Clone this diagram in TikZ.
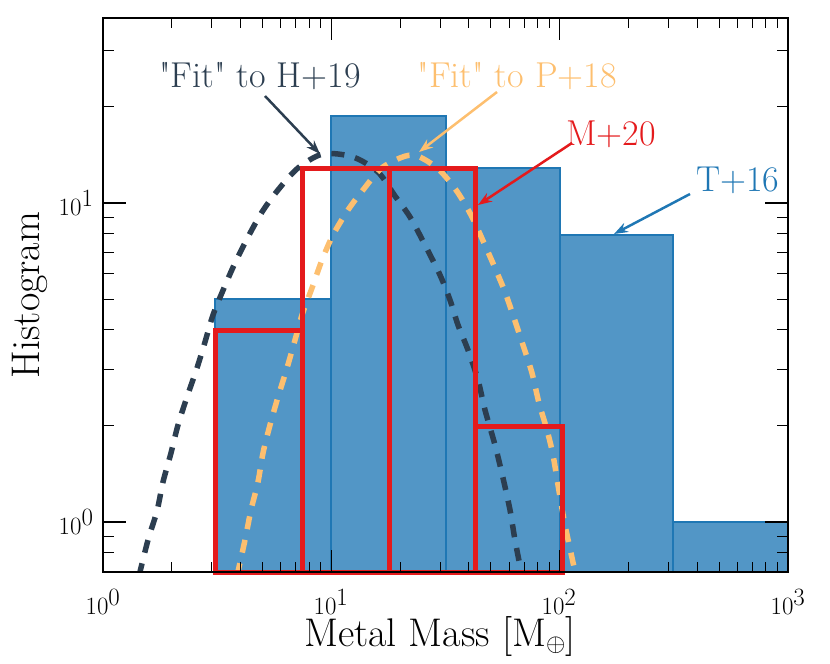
\documentclass[tikz,border=0pt]{standalone}
\usepackage{fontspec}
\usetikzlibrary{arrows.meta}
\definecolor{hblue}{HTML}{5296C6}
\definecolor{eblue}{HTML}{1F77B4}
\definecolor{hred}{HTML}{E41A1C}
\definecolor{hdark}{HTML}{2C3E50}
\definecolor{horange}{HTML}{FDBF6F}
\tikzset{
  lbl/.style={font=\fontsize{40}{44}\selectfont},
  ann/.style={font=\fontsize{36}{40}\selectfont},
  fitcurve/.style={line width=5.5pt, dash pattern=on 13pt off 11pt, smooth},
  annarrow/.style={line width=2.5pt, -{Stealth[length=14pt,width=10pt]}},
}
\begin{document}
\begin{tikzpicture}[x=1pt,y=-1pt]
\useasboundingbox (0,0) rectangle (830,664);
% T+16 histogram
\begin{scope}[fill=hblue, draw=eblue, line width=2.5pt]
\filldraw (215,572) rectangle (331,299);
\filldraw (331,572) rectangle (446,116);
\filldraw (446,572) rectangle (560,168);
\filldraw (560,572) rectangle (673,235);
\filldraw (673,572) rectangle (788,522);
\end{scope}
% fits
\begin{scope}
\clip (103,18) rectangle (788,572);
\draw[fitcurve, hdark] plot coordinates {(139,576) (148,540) (157,511) (163,482) (171,453) (178,425) (187,397) (197,368) (205,342) (213,315) (224,288) (235,263) (248,237) (262,212) (278,190) (298,168) (323,154) (353,157) (378,172) (395,196) (410,217) (425,245) (440,275) (450,300) (458,325) (468,350) (478,380) (485,410) (495,445) (503,478) (510,510) (515,540) (522,576)};
\draw[fitcurve, horange] plot coordinates {(237,576) (245,540) (251,510) (258,482) (263,453) (270,425) (278,397) (287,368) (295,340) (302,315) (312,288) (322,260) (333,235) (348,210) (363,190) (383,167) (412,155) (437,168) (456,190) (471,215) (484,243) (495,268) (505,292) (514,318) (523,345) (532,373) (539,403) (547,430) (553,455) (558,485) (565,525) (576,576)};
\end{scope}
% M+20 histogram
\begin{scope}[draw=hred, line width=5pt]
\draw (215,572) rectangle (302,330);
\draw (302,572) rectangle (389,168);
\draw (389,572) rectangle (475,168);
\draw (475,572) rectangle (562,426);
\end{scope}
% axes box
\draw[line width=2pt] (103,18) rectangle (788,572);
% x ticks
\foreach \d in {0,1,2}{
  \foreach \m in {2,...,9}{
    \pgfmathsetmacro{\xx}{103+228.33*(\d+log10(\m))}
    \draw[line width=1pt] (\xx,572) -- ++(0,-10) (\xx,18) -- ++(0,10);
  }}
\foreach \d in {0,1,2,3}{
  \pgfmathsetmacro{\xx}{103+228.33*\d}
  \draw[line width=1.5pt] (\xx,572) -- ++(0,-22) (\xx,18) -- ++(0,22);
}
% y ticks
\foreach \v in {0.7,0.8,0.9,2,3,4,5,6,7,8,9,20,30}{
  \pgfmathsetmacro{\yy}{522-319*log10(\v)}
  \draw[line width=1pt] (103,\yy) -- ++(11,0) (788,\yy) -- ++(-11,0);
}
\foreach \v in {1,10}{
  \pgfmathsetmacro{\yy}{522-319*log10(\v)}
  \draw[line width=1.5pt] (103,\yy) -- ++(23,0) (788,\yy) -- ++(-23,0);
}
% tick labels
\node[lbl] (x0) at (103,602) {$10^0$};
\node[lbl] (x1) at (331,602) {$10^1$};
\node[lbl] (x2) at (559,602) {$10^2$};
\node[lbl] (x3) at (788,602) {$10^3$};
\node[lbl,anchor=east] (y1) at (97,203) {$10^1$};
\node[lbl,anchor=east] (y0) at (97,522) {$10^0$};
\node[lbl] (xl) at (440,636) {Metal Mass [M$_\oplus$]};
\node[lbl,rotate=90] (yl) at (30,295) {Histogram};
% annotations
\node[ann, text=hdark] (h19) at (260,76) {\textquotedbl Fit\textquotedbl{} to H+19};
\coordinate (h19t) at (320,154);
\draw[annarrow, hdark] (265,96) -- (h19t);
\node[ann, text=horange] (p18) at (517,76) {\textquotedbl Fit\textquotedbl{} to P+18};
\coordinate (p18t) at (419,152);
\draw[annarrow, horange] (497,92) -- (p18t);
\node[ann, text=hred] (m20) at (611,134) {M+20};
\coordinate (m20t) at (478,205);
\draw[annarrow, hred] (572,143) -- (m20t);
\node[ann, text=eblue] (t16) at (738,180) {T+16};
\coordinate (t16t) at (614,234);
\draw[annarrow, eblue] (690,194) -- (t16t);
\end{tikzpicture}
\end{document}
